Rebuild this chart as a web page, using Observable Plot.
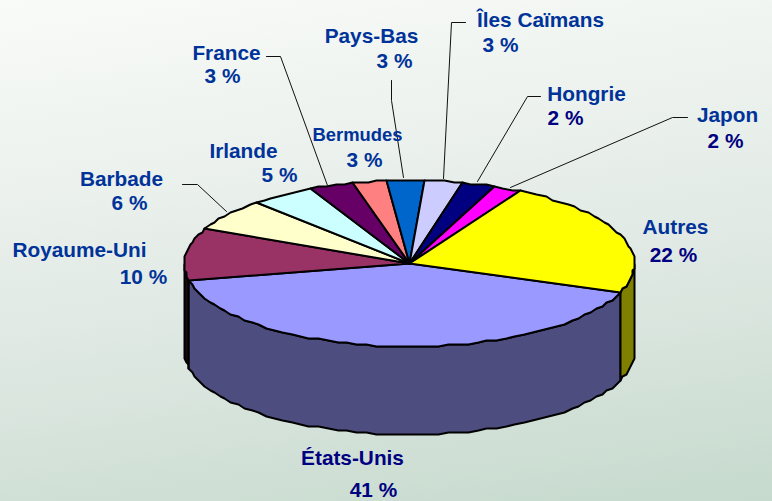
<!DOCTYPE html>
<html lang="fr">
<head>
<meta charset="utf-8">
<script src="https://cdn.jsdelivr.net/npm/d3@7"></script>
<script src="https://cdn.jsdelivr.net/npm/@observablehq/plot@0.6"></script>
<style>
html,body{margin:0;padding:0;width:772px;height:501px;overflow:hidden;
background:linear-gradient(172deg,#f9fbf9 0%,#eaf0ec 35%,#dde7e1 62%,#c6dacd 100%);}
svg{display:block;background:transparent!important;}
</style>
</head>
<body>
<div id="chart"></div>
<script>
// ---- data ----
const names = ["États-Unis","Royaume-Uni","Barbade","Irlande","France","Bermudes","Pays-Bas","Îles Caïmans","Hongrie","Japon","Autres"];
const shares = [41,10.2,6.2,4.7,3.1,2.4,2.8,2.7,2.3,2.1,22.5];   // slice size
const percentLabels = ["41 %","10 %","6 %","5 %","3 %","3 %","3 %","3 %","2 %","2 %","22 %"];
const topColors = ["#9999FF","#993366","#FFFFCC","#CCFFFF","#660066","#FF8080","#0066CC","#CCCCFF","#000080","#FF00FF","#FFFF00"];
const sideColors = ["#4D4D7F","#1A0A12","#80806A","#6A8080","#330033","#804040","#003366","#6A6A80","#000040","#800080","#7F7F00"];

// ---- layout (chart geometry, separate from data) ----
const W = 772, H = 501;
const pie = {cx:409, cy:263, rx:225, ry:83, depth:88, startDeg:20.6, step:2.6, snap:2};
const nameColor = "#003399", navy = "#000080";
const big = 20.8, small = 18.4;
const nameLayout = [[352,458,navy,big],[79,250,nameColor,big],[121,179,nameColor,big],[243,151,nameColor,big],[226,53,nameColor,big],[357,135,nameColor,small],[371,36,nameColor,big],[540,20,nameColor,big],[586,94,nameColor,big],[727,115,nameColor,big],[675,227,nameColor,big]];
const pctLayout  = [[373,490,navy,big],[143,277,nameColor,big],[129,203,nameColor,big],[279,175,nameColor,big],[222,76,nameColor,big],[364,160,nameColor,big],[394,61,nameColor,big],[500,45,nameColor,big],[565,118,navy,big],[725,141,navy,big],[673,255,navy,big]];
const leaders = [
  [[266,56],[280,56],[327,185]],
  [[182,184],[197,184],[226,211]],
  [[391,80],[391,100],[403,177]],
  [[465,22],[451,22],[443,178]],
  [[540,96],[527,96],[477,181]],
  [[687,117],[672,117],[510,187]]
];

// ---- geometry derived from the shares ----
const total = d3.sum(shares);
let acc = pie.startDeg;
const slices = names.map((n,i)=>{
  const a0 = acc, a1 = acc + shares[i]/total*360; acc = a1;
  return {name:n, a0, a1, top:topColors[i], side:sideColors[i]};
});
const snap = v => Math.round(v/pie.snap)*pie.snap;
const pt = (deg,dy=0)=>{
  const t = deg*Math.PI/180;
  return {x:snap(pie.cx+pie.rx*Math.cos(t)), y:snap(pie.cy+pie.ry*Math.sin(t))+dy};
};
const arc = (a0,a1,dy=0)=>{
  const n = Math.max(1,Math.ceil((a1-a0)/pie.step));
  return d3.range(n+1).map(k=>pt(a0+(a1-a0)*k/n,dy));
};
const centre = {x:pie.cx,y:pie.cy};

// front wall pieces: only the angular part lying in the near half (0..180 deg, also +360)
const walls = slices.flatMap(s=>{
  const out=[];
  for (const off of [0,360]) {
    const a0=Math.max(s.a0,off), a1=Math.min(s.a1,off+180);
    if (a1>a0) {
      const top = arc(a0,a1), bottom = arc(a0,a1,pie.depth).reverse();
      out.push({fill:s.side, pts:[...top,...bottom,top[0]]});
    }
  }
  return out;
});
const tops = slices.map(s=>({fill:s.top, pts:[centre,...arc(s.a0,s.a1),centre]}));

const poly = (p,fill,sw)=>Plot.line(p,{x:"x",y:"y",fill,stroke:"#000",strokeWidth:sw,strokeLinejoin:"round",curve:"linear"});

const plot = Plot.plot({
  width:W,height:H,margin:0,
  x:{domain:[0,W],range:[0,W],axis:null},
  y:{domain:[0,H],range:[0,H],axis:null},
  style:{background:"transparent",fontFamily:"'Liberation Sans',Arial,sans-serif"},
  marks:[
    ...walls.map(w=>poly(w.pts,w.fill,2)),
    ...tops.map(t=>poly(t.pts,t.fill,2)),
    ...leaders.map(l=>Plot.line(l.map(([x,y])=>({x,y})),{x:"x",y:"y",stroke:"#111",strokeWidth:1,curve:"linear"})),
    ...names.map((n,i)=>Plot.text([n],{x:()=>nameLayout[i][0],y:()=>nameLayout[i][1],text:d=>d,fill:nameLayout[i][2],fontSize:nameLayout[i][3],fontWeight:"bold",textAnchor:"middle",lineAnchor:"middle"})),
    ...percentLabels.map((p,i)=>Plot.text([p],{x:()=>pctLayout[i][0],y:()=>pctLayout[i][1],text:d=>d,fill:pctLayout[i][2],fontSize:pctLayout[i][3],fontWeight:"bold",textAnchor:"middle",lineAnchor:"middle"}))
  ]
});
document.getElementById("chart").appendChild(plot);
</script>
</body>
</html>
